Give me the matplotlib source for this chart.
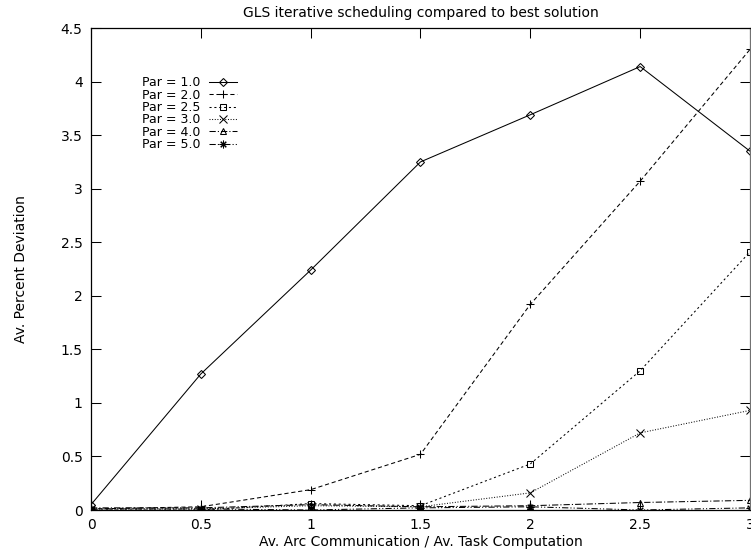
import matplotlib
matplotlib.use("Agg")
import matplotlib.pyplot as plt
import numpy as np

plt.rcParams['font.family'] = ['DejaVu Sans']
plt.rcParams['lines.scale_dashes'] = False

# datos
ratio = [0, 0.5, 1, 1.5, 2, 2.5, 3]
par_10 = [0.05, 1.27, 2.24, 3.25, 3.69, 4.14, 3.35]
par_20 = [0.01, 0.03, 0.19, 0.52, 1.92, 3.07, 4.30]
par_25 = [0.00, 0.00, 0.06, 0.04, 0.43, 1.30, 2.41]
par_30 = [0.01, 0.01, 0.04, 0.03, 0.16, 0.72, 0.93]
par_40 = [0.02, 0.02, 0.05, 0.03, 0.04, 0.07, 0.09]
par_50 = [0.01, 0.01, 0.00, 0.02, 0.03, 0.00, 0.02]

x_ticks = [0, 0.5, 1, 1.5, 2, 2.5, 3]
x_labels = ["0", "0.5", "1", "1.5", "2", "2.5", "3"]
y_ticks = [0, 0.5, 1, 1.5, 2, 2.5, 3, 3.5, 4, 4.5]
y_labels = ["0", "0.5", "1", "1.5", "2", "2.5", "3", "3.5", "4", "4.5"]

series = [
    ("Par = 1.0", par_10, 'D', None),
    ("Par = 2.0", par_20, '+', (3, 2)),
    ("Par = 2.5", par_25, 's', (1.5, 2)),
    ("Par = 3.0", par_30, 'x', (0.7, 1.2)),
    ("Par = 4.0", par_40, '^', (4.5, 1.5, 0.8, 1.5)),
    ("Par = 5.0", par_50, (8, 2, 0), (4.5, 1.5, 0.8, 1.5, 0.8, 1.5)),
]

fig = plt.figure(figsize=(7.51, 5.52), dpi=100)
ax = fig.add_axes([91/751, 42/552, 659/751, 482/552])

for nombre, valores, marca, guiones in series:
    tam = 4 if marca in ('D', 's', '^') else 5.5
    linea, = ax.plot(ratio, valores, color='black', lw=0.75, marker=marca,
                     markersize=tam, markerfacecolor='none', markeredgecolor='black',
                     markeredgewidth=0.75, label=nombre)
    if guiones is not None:
        linea.set_dashes(guiones)

ax.set_xlim(0, 3)
ax.set_ylim(0, 4.5)
ax.set_xticks(x_ticks)
ax.set_xticklabels(x_labels)
ax.set_yticks(y_ticks)
ax.set_yticklabels(y_labels)
ax.tick_params(direction='in', length=7, width=0.75, top=True, right=True,
               labelsize=10, pad=6)
ax.tick_params(axis='x', pad=6)
for lado in ax.spines.values():
    lado.set_linewidth(0.9)
ax.spines['right'].set_color('0.45')

ax.set_title('GLS iterative scheduling compared to best solution', fontsize=10, pad=8)
ax.set_xlabel('Av. Arc Communication / Av. Task Computation', fontsize=10, labelpad=2)
ax.set_ylabel('Av. Percent Deviation', fontsize=10)
ax.yaxis.set_label_coords(-0.096, 0.5)

ax.legend(loc='upper left', bbox_to_anchor=(0.0774, 0.90), frameon=False,
          markerfirst=False, fontsize=9, handlelength=2.2, handletextpad=0.7,
          labelspacing=-0.05, borderpad=0, borderaxespad=0)

plt.savefig('out.png', dpi=100)
